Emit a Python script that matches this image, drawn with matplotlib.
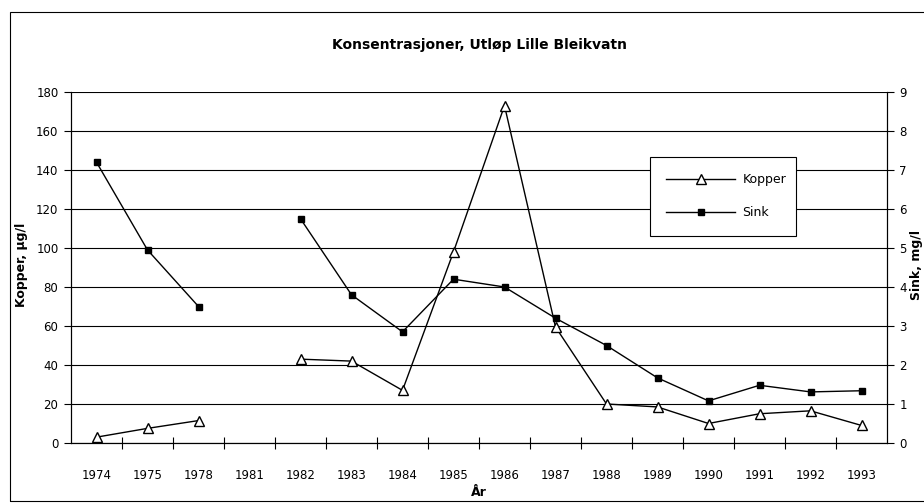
import numpy as np
import matplotlib
matplotlib.use("Agg")
import matplotlib.pyplot as plt
from matplotlib.patches import Rectangle

# år (kategorier) og verdier
years = ["1974", "1975", "1978", "1981", "1982", "1983", "1984", "1985",
         "1986", "1987", "1988", "1989", "1990", "1991", "1992", "1993"]
kopper = [3, 7.5, 11.5, np.nan, 43, 42, 27, 98,
          173, 59.5, 20, 18.5, 10, 15, 16.5, 9]      # µg/l
sink = [7.2, 4.95, 3.5, np.nan, 5.75, 3.8, 2.85, 4.2,
        4.0, 3.2, 2.5, 1.67, 1.08, 1.48, 1.31, 1.34]  # mg/l

plt.rcParams['font.family'] = ['DejaVu Sans']

fig = plt.figure(figsize=(9.24, 5.04), dpi=100)
ax = fig.add_axes([71/924, 1 - 443/504, (887 - 71)/924, (443 - 92)/504])
ax2 = ax.twinx()

x = np.arange(len(years))

l1, = ax.plot(x, kopper, color="black", lw=1.0, marker="^", ms=7,
              mfc="white", mec="black", mew=1.0, label="Kopper")
l2, = ax2.plot(x, sink, color="black", lw=1.0, marker="s", ms=5,
               mfc="black", mec="black", label="Sink")

ax.set_xlim(-0.5, len(years) - 0.5)
ax.set_ylim(0, 180)
ax2.set_ylim(0, 9)
ax.set_yticks(np.arange(0, 181, 20))
ax2.set_yticks(np.arange(0, 10, 1))
ax.set_xticks(x)
ax.set_xticklabels(years)
ax.set_xticks(np.arange(0.5, len(years) - 1, 1), minor=True)
ax.tick_params(axis="x", which="major", length=0, pad=19, labelsize=8.5)
ax.tick_params(axis="x", which="minor", length=8, direction="inout", width=0.8)
ax.tick_params(axis="y", length=5, width=0.8, labelsize=8.5, pad=4)
ax2.tick_params(axis="y", length=5, width=0.8, labelsize=8.5, pad=4)

ax.yaxis.grid(True, color="black", lw=0.8)
ax.set_axisbelow(True)
for a in (ax, ax2):
    a.spines["top"].set_visible(False)
    for s in ("left", "right", "bottom"):
        a.spines[s].set_linewidth(0.8)

fig.text(22/924, 1 - 265/504, "Kopper, µg/l", rotation=90, fontsize=9,
         fontweight="bold", ha="center", va="center")
fig.text(910/924, 1 - 265/504, "Sink, mg/l", rotation=90, fontsize=9,
         fontweight="bold", ha="left", va="center")
fig.text(479/924, 1 - 492/504, "År", fontsize=9, fontweight="bold",
         ha="center", va="center")
fig.text(479/924, 1 - 45/504, "Konsentrasjoner, Utløp Lille Bleikvatn",
         fontsize=10, fontweight="bold", ha="center", va="center")

leg = ax2.legend(handles=[l1, l2], loc="upper left",
                 bbox_to_anchor=(650/924, 1 - 236/504, 146/924, 79/504),
                 bbox_transform=fig.transFigure, mode="expand",
                 fontsize=9, frameon=True, fancybox=False, framealpha=1,
                 edgecolor="black", handlelength=5.5, handletextpad=0.6,
                 borderpad=1.3, labelspacing=1.6, borderaxespad=0)
leg.get_frame().set_linewidth(0.8)

# ytre ramme
fig.patches.append(Rectangle((10/924, 1 - 501/504), 1.0, 489/504,
                             transform=fig.transFigure, fill=False,
                             edgecolor="black", lw=0.8))

fig.savefig("out.png", dpi=100)
